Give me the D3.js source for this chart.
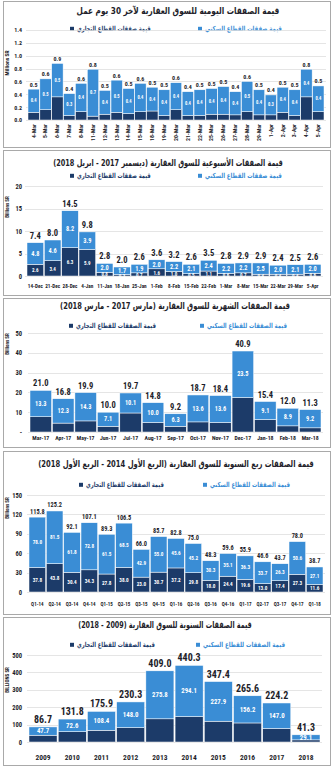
<!DOCTYPE html>
<html><head><meta charset="utf-8">
<script src="https://cdn.jsdelivr.net/npm/d3@7"></script>
<style>
body{margin:0;background:#fff;}
svg{display:block;}
</style></head><body>
<svg id="c" width="334" height="768"></svg>
<script>
// ---------- DATA ----------
// Panel 1: daily (last 30 working days), millions SR
const dailyDates = ["4-Mar","5-Mar","6-Mar","7-Mar","8-Mar","11-Mar","12-Mar","13-Mar","14-Mar","15-Mar","18-Mar","19-Mar","20-Mar","21-Mar","22-Mar","25-Mar","26-Mar","27-Mar","28-Mar","29-Mar","1-Apr","2-Apr","3-Apr","4-Apr","5-Apr"];
const dailyCommercial = [0.12,0.16,0.36,0.07,0.13,0.06,0.09,0.12,0.10,0.13,0.14,0.07,0.16,0.07,0.07,0.09,0.09,0.08,0.13,0.08,0.08,0.12,0.07,0.36,0.13];
const dailyResidential = [0.36,0.48,0.52,0.34,0.44,0.73,0.37,0.50,0.39,0.44,0.37,0.40,0.42,0.37,0.40,0.40,0.43,0.36,0.47,0.39,0.31,0.39,0.40,0.43,0.40];
const dailyTotal = [0.5,0.6,0.9,0.4,0.6,0.8,0.5,0.6,0.5,0.6,0.5,0.5,0.6,0.4,0.5,0.5,0.5,0.4,0.6,0.5,0.4,0.5,0.5,0.8,0.5];
const dailyTicks = [0,0.2,0.4,0.6,0.8,1.0,1.2,1.4];

// Panel 2: weekly (Dec 2017 - Apr 2018), billions SR
const weeklyDates = ["14-Dec","21-Dec","28-Dec","4-Jan","11-Jan","18-Jan","25-Jan","1-Feb","8-Feb","15-Feb","22-Feb","1-Mar","8-Mar","15-Mar","22-Mar","29-Mar","5-Apr"];
const weeklyResidential = [4.8,4.6,8.2,3.9,2.0,1.7,1.9,2.0,2.2,2.1,2.4,2.2,2.2,2.5,2.0,2.1,2.0];
const weeklyCommercial = [2.6,3.4,6.3,5.9,0.8,0.3,0.7,1.6,1.0,0.5,1.1,0.6,0.7,0.4,0.4,0.4,0.6];
const weeklyTotal = [7.4,8.0,14.5,9.8,2.8,2.0,2.6,3.6,3.2,2.6,3.5,2.8,2.9,2.9,2.4,2.5,2.6];
const weeklyTicks = [0,5,10,15,20];

// Panel 3: monthly (Mar 2017 - Mar 2018), billions SR
const monthlyDates = ["Mar-17","Apr-17","May-17","Jun-17","Jul-17","Aug-17","Sep-17","Oct-17","Nov-17","Dec-17","Jan-18","Feb-18","Mar-18"];
const monthlyResidential = [13.3,12.3,14.3,7.1,10.1,10.0,6.3,13.6,13.6,23.5,9.1,8.9,9.2];
const monthlyCommercial = [7.7,4.5,5.6,2.9,9.6,4.8,2.9,5.1,4.8,17.4,6.3,3.1,2.1];
const monthlyTotal = [21.0,16.8,19.9,10.0,19.7,14.8,9.2,18.7,18.4,40.9,15.4,12.0,11.3];
const monthlyTicks = [0,10,20,30,40,50];

// Panel 4: quarterly (Q1 2014 - Q1 2018), billions SR
const quarterLabels = ["Q1-14","Q2-14","Q3-14","Q4-14","Q1-15","Q2-15","Q3-15","Q4-15","Q1-16","Q2-16","Q3-16","Q4-16","Q1-17","Q2-17","Q3-17","Q4-17","Q1-18"];
const quarterResidential = [78.0,81.5,61.8,72.8,61.5,68.5,42.9,55.0,45.6,45.2,30.3,35.1,36.3,33.7,26.3,50.6,27.1];
const quarterCommercial = [37.8,43.8,30.4,34.3,27.8,38.0,23.0,30.7,37.2,29.8,18.0,24.4,19.6,13.0,17.4,27.3,11.6];
const quarterTotal = [115.8,125.2,92.1,107.1,89.3,106.5,66.0,85.7,82.8,75.0,48.3,59.6,55.9,46.6,43.7,78.0,38.7];
const quarterTicks = [0,30,60,90,120,150];

// Panel 5: annual (2009 - 2018), billions SR
const annualYears = ["2009","2010","2011","2012","2013","2014","2015","2016","2017","2018"];
const annualResidential = [47.7,72.6,108.4,148.0,275.8,294.1,227.9,156.2,147.0,29.1];
const annualCommercial = [39.0,59.2,67.5,82.3,133.2,146.2,119.5,109.4,77.2,12.2];
const annualTotal = [86.7,131.8,175.9,230.3,409.0,440.3,347.4,265.6,224.2,41.3];
const annualTicks = [0,100,200,300,400,500];

// ---------- STYLE ----------
const RES = "#3a8dd5", COM = "#1c3b69", TXT = "#1e1e2a";
const NUM = "'Liberation Sans Narrow','Roboto Condensed','DejaVu Sans Condensed','Liberation Sans',sans-serif";
const AR = "'DejaVu Sans',sans-serif";

const svg = d3.select("#c");

// Arabic text squeezed horizontally into a target width via a group transform
function arText(parent, x, y, txt, size, col, targetW, anchor) {
  const wrap = parent.append("g");
  const t = wrap.append("text").attr("x", 0).attr("y", 0)
    .attr("text-anchor", anchor).attr("direction", anchor === "middle" ? "rtl" : null)
    .attr("font-family", AR).attr("font-weight", "bold")
    .attr("font-size", size).attr("fill", col).text(txt);
  const w = t.node().getComputedTextLength();
  const sx = w > targetW ? targetW / w : 1;
  wrap.attr("transform", `translate(${x},${y}) scale(${sx},1)`);
  return t;
}

function drawPanel(o) {
  const g = svg.append("g");
  g.append("rect").attr("x", o.box[0]+0.5).attr("y", o.box[1]+0.5)
    .attr("width", o.box[2]-o.box[0]).attr("height", o.box[3]-o.box[1])
    .attr("fill", "#fff").attr("stroke", "#a9a9a9").attr("stroke-width", 1);

  arText(g, o.titleX, o.titleY, o.title, o.titleSize, TXT, o.titleW, "middle");

  // legend
  const leg = [[o.legCom, COM, o.comText, o.comW], [o.legRes, RES, o.resText, o.resW]];
  leg.forEach(([lx, col, txt, w]) => {
    g.append("rect").attr("x", lx).attr("y", o.legY - 2.2).attr("width", 4).attr("height", 4).attr("fill", col);
    arText(g, lx + 7, o.legY + 2, txt, o.legSize, col, w, "start");
  });

  const x = d3.scaleBand().domain(o.cats).range(o.xr).paddingInner(o.pad || 0.04);
  const y = d3.scaleLinear().domain([0, o.ticks[o.ticks.length-1]]).range(o.yr);

  // grid
  g.append("g").selectAll("line").data(o.ticks).join("line")
    .attr("x1", o.xr[0]-2).attr("x2", o.xr[1]+2)
    .attr("y1", d => Math.round(y(d))+0.5).attr("y2", d => Math.round(y(d))+0.5)
    .attr("stroke", "#dedede").attr("stroke-width", 0.8);

  // y axis labels
  const ya = d3.axisLeft(y).tickValues(o.ticks).tickFormat(o.tf).tickSize(0).tickPadding(0);
  const yg = g.append("g").attr("transform", `translate(${o.yLabX},0)`).call(ya);
  yg.select(".domain").remove();
  yg.selectAll("text").attr("font-family", NUM).attr("font-weight", "bold")
    .attr("font-size", o.yTickSize).attr("fill", TXT);

  // y title
  g.append("text").attr("transform", `translate(${o.yTitleX},${o.yTitleY}) rotate(-90)`)
    .attr("text-anchor", "middle").attr("font-family", NUM).attr("font-weight", "bold")
    .attr("font-size", o.yTitleSize).attr("fill", TXT).text(o.yTitle);

  const data = o.cats.map((c, i) => ({c, com: o.com[i], res: o.res[i], tot: o.tot[i]}));
  const bars = g.append("g");
  bars.selectAll(".com").data(data).join("rect")
    .attr("x", d => x(d.c)).attr("width", x.bandwidth())
    .attr("y", d => y(d.com)).attr("height", d => y(0) - y(d.com))
    .attr("fill", COM).attr("stroke", "#fff").attr("stroke-width", 0.5);
  bars.selectAll(".res").data(data).join("rect")
    .attr("x", d => x(d.c)).attr("width", x.bandwidth())
    .attr("y", d => y(d.com + d.res)).attr("height", d => y(d.com) - y(d.com + d.res))
    .attr("fill", RES).attr("stroke", "#fff").attr("stroke-width", 0.5);

  const f1 = d3.format(".1f");
  // residential labels
  bars.selectAll(".rl").data(data).join("text")
    .attr("x", d => x(d.c) + x.bandwidth()/2)
    .attr("y", d => (y(d.com) + y(d.com + d.res))/2 + o.inSize*0.35)
    .attr("text-anchor", "middle").attr("font-family", NUM).attr("font-weight", "bold")
    .attr("font-size", o.inSize).attr("fill", "#fff").text(d => f1(d.res));
  if (o.comLabels) {
    bars.selectAll(".cl").data(data).join("text")
      .attr("x", d => x(d.c) + x.bandwidth()/2)
      .attr("y", d => Math.max((y(0) + y(d.com))/2 + o.inSize*0.35, y(d.com) + o.inSize*0.55))
      .attr("text-anchor", "middle").attr("font-family", NUM).attr("font-weight", "bold")
      .attr("font-size", o.comSize || o.inSize).attr("fill", "#fff").text(d => f1(d.com));
  }
  // totals
  bars.selectAll(".tl").data(data).join("text")
    .attr("x", d => x(d.c) + x.bandwidth()/2)
    .attr("y", d => y(d.com + d.res) - o.totGap)
    .attr("text-anchor", "middle").attr("font-family", NUM).attr("font-weight", "bold")
    .attr("font-size", o.totSize).attr("fill", TXT).text(d => f1(d.tot));

  // x axis labels
  const xa = d3.axisBottom(x).tickSize(0).tickPadding(0);
  const xg = g.append("g").attr("transform", `translate(0,${o.xLabY})`).call(xa);
  xg.select(".domain").remove();
  const xt = xg.selectAll("text").attr("font-family", NUM).attr("font-weight", "bold")
    .attr("font-size", o.xSize).attr("fill", TXT);
  if (o.rotate) {
    xt.attr("transform", "rotate(-90)").attr("text-anchor", "end").attr("dy", "0.32em").attr("x", 0).attr("y", 0);
  } else {
    xt.attr("dy", "0.35em").attr("y", 0);
  }
}

drawPanel({
  box: [3, 1, 330, 147],
  title: "قيمة الصفقات اليومية للسوق العقارية لآخر 30 يوم عمل", titleX: 178, titleY: 14, titleSize: 9.5, titleW: 203,
  legCom: 70, legRes: 198, legY: 29, legSize: 7, comW: 74, resW: 77,
  comText: "قيمة صفقات القطاع التجاري", resText: "قيمة صفقات القطاع السكني",
  cats: dailyDates, com: dailyCommercial, res: dailyResidential, tot: dailyTotal,
  xr: [28, 324], yr: [120, 30], ticks: dailyTicks, tf: d3.format(".1f"),
  yLabX: 22, yTickSize: 6, yTitle: "Millions SR", yTitleX: 9, yTitleY: 63, yTitleSize: 5.5,
  inSize: 4.5, totSize: 6, totGap: 2.5, xSize: 5.8, xLabY: 124, rotate: true
});

drawPanel({
  box: [3, 150, 330, 295],
  title: "قيمة الصفقات الأسبوعية للسوق العقارية (ديسمبر 2017 - ابريل 2018)", titleX: 168, titleY: 166, titleSize: 9.5, titleW: 230,
  legCom: 70, legRes: 198, legY: 176, legSize: 7, comW: 74, resW: 77,
  comText: "قيمة صفقات القطاع التجاري", resText: "قيمة صفقات القطاع السكني",
  cats: weeklyDates, com: weeklyCommercial, res: weeklyResidential, tot: weeklyTotal,
  xr: [27, 321], yr: [276, 186], ticks: weeklyTicks, tf: d3.format("d"),
  yLabX: 22, yTickSize: 6.5, yTitle: "Billions SR", yTitleX: 9, yTitleY: 207, yTitleSize: 5,
  inSize: 6.3, comSize: 5, totSize: 8.5, totGap: 4, xSize: 5.2, xLabY: 286, comLabels: true
});

drawPanel({
  box: [3, 298, 330, 447],
  title: "قيمة الصفقات الشهرية للسوق العقارية (مارس 2017 - مارس 2018)", titleX: 175, titleY: 309, titleSize: 9.5, titleW: 230,
  legCom: 69, legRes: 200, legY: 326, legSize: 7, comW: 80, resW: 80,
  comText: "قيمة الصفقات للقطاع التجاري", resText: "قيمة الصفقات للقطاع السكني",
  cats: monthlyDates, com: monthlyCommercial, res: monthlyResidential, tot: monthlyTotal,
  xr: [30, 321], yr: [432, 333], ticks: monthlyTicks, tf: d => d === 0 ? "-" : d3.format("d")(d),
  yLabX: 22, yTickSize: 6.5, yTitle: "Billions SR", yTitleX: 9, yTitleY: 344, yTitleSize: 5,
  inSize: 6.3, totSize: 8.5, totGap: 4, xSize: 5.8, xLabY: 438
});

drawPanel({
  box: [3, 451, 330, 614],
  title: "قيمة الصفقات ربع السنوية للسوق العقارية (الربع الأول 2014 - الربع الأول 2018)", titleX: 176, titleY: 467, titleSize: 9.5, titleW: 276,
  legCom: 79, legRes: 203, legY: 485, legSize: 7, comW: 78, resW: 80,
  comText: "قيمة الصفقات للقطاع التجاري", resText: "قيمة الصفقات للقطاع السكني",
  cats: quarterLabels, com: quarterCommercial, res: quarterResidential, tot: quarterTotal,
  xr: [29, 323], yr: [592, 495], ticks: quarterTicks, tf: d3.format("d"),
  yLabX: 22, yTickSize: 6.5, yTitle: "Billions SR", yTitleX: 9, yTitleY: 508, yTitleSize: 5,
  inSize: 5.2, totSize: 6.3, totGap: 3.5, xSize: 5, xLabY: 604, comLabels: true
});

drawPanel({
  box: [3, 617, 330, 765],
  title: "قيمة الصفقات السنوية للسوق العقارية (2009 - 2018)", titleX: 165, titleY: 628, titleSize: 9.5, titleW: 174,
  legCom: 70, legRes: 196, legY: 645, legSize: 7, comW: 78, resW: 82,
  comText: "قيمة الصفقات للقطاع التجاري", resText: "قيمة الصفقات للقطاع السكني",
  cats: annualYears, com: annualCommercial, res: annualResidential, tot: annualTotal,
  xr: [29, 320], yr: [742, 655], ticks: annualTicks, tf: d3.format("d"),
  yLabX: 22, yTickSize: 6.5, yTitle: "BILLIONS SR", yTitleX: 9, yTitleY: 680, yTitleSize: 5,
  inSize: 6.8, totSize: 10, totGap: 4, xSize: 7.5, xLabY: 757
});
</script>
</body></html>
